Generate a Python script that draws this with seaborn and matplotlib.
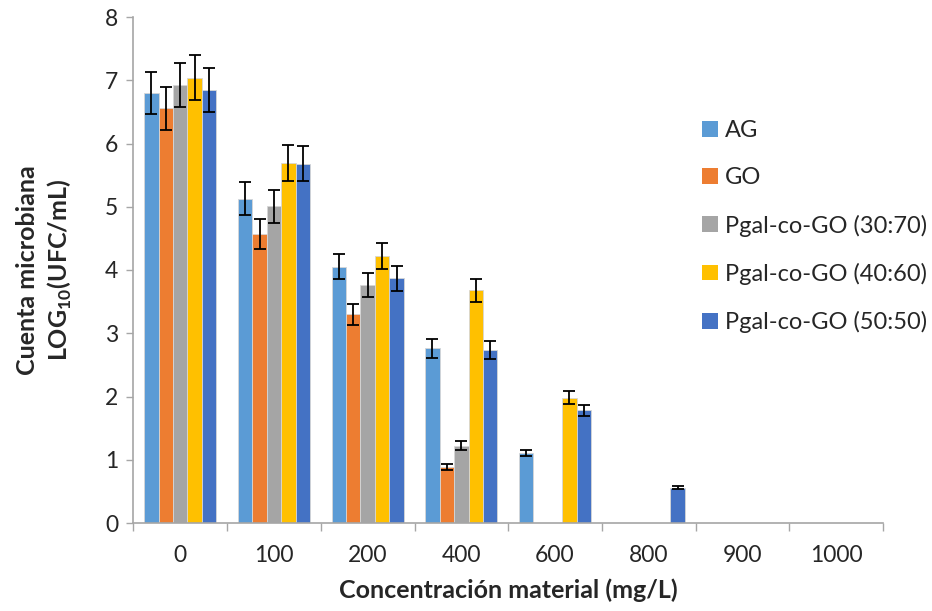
import matplotlib
matplotlib.use("Agg")
import matplotlib.pyplot as plt
import seaborn as sns
import pandas as pd
import numpy as np
from matplotlib.patches import Patch

concentrations = ["0", "100", "200", "400", "600", "800", "900", "1000"]
series_names = ["AG", "GO", "Pgal-co-GO (30:70)", "Pgal-co-GO (40:60)", "Pgal-co-GO (50:50)"]
colors = ["#5B9BD5", "#ED7D31", "#A5A5A5", "#FFC000", "#4472C4"]

ag = [6.80, 5.13, 4.05, 2.76, 1.11, 0, 0, 0]
go = [6.56, 4.57, 3.30, 0.885, 0, 0, 0, 0]
p3070 = [6.93, 5.01, 3.76, 1.22, 0, 0, 0, 0]
p4060 = [7.04, 5.69, 4.22, 3.68, 1.98, 0, 0, 0]
p5050 = [6.85, 5.68, 3.87, 2.73, 1.78, 0.56, 0, 0]

ag_err = [0.33, 0.26, 0.20, 0.15, 0.05, 0, 0, 0]
go_err = [0.34, 0.24, 0.17, 0.05, 0, 0, 0, 0]
p3070_err = [0.35, 0.26, 0.19, 0.07, 0, 0, 0, 0]
p4060_err = [0.36, 0.28, 0.21, 0.18, 0.10, 0, 0, 0]
p5050_err = [0.35, 0.28, 0.20, 0.14, 0.09, 0.03, 0, 0]

values = [ag, go, p3070, p4060, p5050]
errors = [ag_err, go_err, p3070_err, p4060_err, p5050_err]

rows = []
for name, vals in zip(series_names, values):
    for c, v in zip(concentrations, vals):
        rows.append({"conc": c, "serie": name, "val": v})
df = pd.DataFrame(rows)

sns.set_style("white")
plt.rcParams["font.family"] = ["Lato", "DejaVu Sans"]
plt.rcParams["mathtext.fontset"] = "custom"
plt.rcParams["mathtext.rm"] = "Lato:bold"
plt.rcParams["mathtext.bf"] = "Lato:bold"

fig = plt.figure(figsize=(9.32, 6.11), dpi=100)
ax = fig.add_axes([133.4 / 932, 1 - 523 / 611, (883 - 133.4) / 932, (523 - 17) / 611])

sns.barplot(data=df, x="conc", y="val", hue="serie", order=concentrations,
            hue_order=series_names, palette=colors, width=0.77, errorbar=None,
            legend=False, ax=ax, edgecolor="#D6D6D6", linewidth=0.6, saturation=1)

for cont, errs in zip(ax.containers, errors):
    xs, ys, es = [], [], []
    for patch, e in zip(cont.patches, errs):
        if e > 0:
            xs.append(patch.get_x() + patch.get_width() / 2)
            ys.append(patch.get_height())
            es.append(e)
    ax.errorbar(xs, ys, yerr=es, fmt="none", ecolor="black", elinewidth=1.3,
                capsize=4.5, capthick=1.3, zorder=5)

ax.set_ylim(0, 8)
ax.set_xlim(-0.5, 7.5)
ax.set_yticks(range(0, 9))
ax.tick_params(axis="y", labelsize=16.5, length=5, width=1, color="#A6A6A6", direction="out", left=True, pad=6)
ax.tick_params(axis="x", which="major", labelsize=16.5, length=0, pad=16)
ax.set_xticks(np.arange(-0.5, 8, 1), minor=True)
ax.tick_params(axis="x", which="minor", length=6, width=1, color="#A6A6A6", direction="out", bottom=True)

for s in ["top", "right"]:
    ax.spines[s].set_visible(False)
for s in ["left", "bottom"]:
    ax.spines[s].set_color("#A6A6A6")
    ax.spines[s].set_linewidth(1.2)

ax.set_xlabel("Concentración material (mg/L)", fontsize=18, fontweight="bold", labelpad=9)
ax.set_ylabel("Cuenta microbiana\nLOG$_{10}$(UFC/mL)", fontsize=18, fontweight="bold",
              labelpad=22, linespacing=1.3)

handles = [Patch(facecolor=c, edgecolor="none") for c in colors]
ax.legend(handles, series_names, loc="upper left", bbox_to_anchor=(702 / 932, 1 - 120 / 611),
          bbox_transform=fig.transFigure, frameon=False, fontsize=17, handlelength=0.66,
          handleheight=0.66, handletextpad=0.3, labelspacing=1.11, borderpad=0, borderaxespad=0)

fig.savefig("out.png", dpi=100)
